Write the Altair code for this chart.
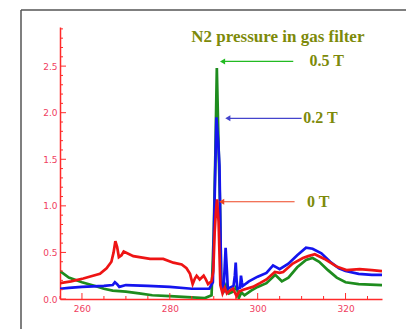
import altair as alt
import pandas as pd

# ---- data ----
red_x = [255, 257.5, 260.3, 262.5, 264.1, 265.6, 266.7, 267.2, 267.6, 268.0, 268.4, 269.0, 269.5, 271.7, 275.5,
         278.5, 280.8, 282.7, 283.8, 284.6, 285.2, 285.7, 286.1, 286.8, 287.7, 288.2, 288.7, 289.5, 289.9, 290.2,
         290.5, 290.75, 291.1, 291.5, 292.0, 292.5, 293.0, 293.7, 294.4, 295.2, 295.8, 296.7, 298.9, 300.5, 302.0,
         303.9, 305.0, 305.8, 308.0, 310.3, 311.5, 313.0, 315.2, 317.9, 320.2, 323.2, 326.0, 328.3]
red_y = [0.17, 0.19, 0.22, 0.25, 0.27, 0.33, 0.40, 0.50, 0.62, 0.56, 0.45, 0.47, 0.51, 0.46, 0.43,
         0.43, 0.39, 0.37, 0.33, 0.27, 0.16, 0.22, 0.25, 0.21, 0.25, 0.21, 0.16, 0.19, 0.30, 0.71,
         0.95, 1.07, 0.83, 0.15, 0.06, 0.12, 0.06, 0.09, 0.11, 0.03, 0.08, 0.10, 0.13, 0.17, 0.21,
         0.29, 0.28, 0.29, 0.38, 0.44, 0.46, 0.48, 0.43, 0.35, 0.31, 0.32, 0.31, 0.30]

blue_x = [255, 257, 260, 265, 267.0, 267.5, 268.0, 268.5, 270, 275, 280, 285, 289.0, 289.8, 290.2,
          290.6, 291.0, 291.3, 291.7, 292.2, 292.5, 292.7, 293.0, 293.2, 294.5, 294.8, 295.0, 295.2, 295.4,
          296.0, 296.2, 296.4, 296.6, 298, 300, 302, 303.5, 304.3, 305, 307, 309, 311, 312.5, 314.5,
          316.5, 318.5, 320, 323, 326, 328.3]
blue_y = [0.11, 0.12, 0.13, 0.14, 0.15, 0.18, 0.16, 0.13, 0.15, 0.14, 0.13, 0.11, 0.11, 0.18, 1.07,
          1.95, 1.70, 1.43, 0.18, 0.07, 0.35, 0.55, 0.30, 0.11, 0.14, 0.25, 0.39, 0.20, 0.11,
          0.12, 0.25, 0.18, 0.14, 0.19, 0.24, 0.28, 0.36, 0.34, 0.32, 0.38, 0.47, 0.55, 0.54, 0.49,
          0.40, 0.33, 0.30, 0.27, 0.26, 0.26]

green_x = [255, 257, 260, 263, 265, 267, 270, 273, 276, 280, 284, 288, 289.5, 290.0, 290.4,
           290.7, 291.1, 291.4, 291.7, 292.3, 292.8, 293.5, 294.5, 295.2, 295.7, 296.3, 297, 298.5,
           300, 302, 304, 305.5, 307, 309, 311, 312.5, 314, 316, 318, 320, 323, 328.3]
green_y = [0.30, 0.23, 0.18, 0.14, 0.11, 0.09, 0.08, 0.06, 0.04, 0.03, 0.02, 0.01, 0.04, 0.71, 1.64,
           2.48, 1.64, 1.07, 0.18, 0.09, 0.15, 0.06, 0.08, 0.14, 0.01, 0.07, 0.04, 0.09,
           0.13, 0.17, 0.26, 0.19, 0.23, 0.34, 0.42, 0.44, 0.40, 0.31, 0.23, 0.18, 0.16, 0.15]

x_labels = [260, 280, 300, 320]
y_labels = [0.0, 0.5, 1.0, 1.5, 2.0, 2.5]
x_minor = [255, 260, 265, 270, 275, 280, 285, 290, 295, 300, 305, 310, 315, 320, 325]
y_minor = [round(0.1 * i, 1) for i in range(0, 30)]

title_text = "N2 pressure in gas filter"
ann_labels = ["0.5 T", "0.2 T", "0 T"]
ann_text_x = [315.7, 314.3, 313.8]
ann_y = [2.55, 1.94, 1.044]
arrow_x1 = [292.0, 293.2, 291.8]
arrow_x2 = [308.1, 310.0, 308.4]
ann_colors = ["#22bb22", "#4444cc", "#ee4422"]

# ---- chart ----
XDOM = [255, 328.3]
YDOM = [0, 2.92]
xs = alt.Scale(domain=XDOM, nice=False, zero=False)
ys = alt.Scale(domain=YDOM, nice=False, zero=False)

AX_RED = "#ff2a2a"
LBL_RED = "#f04060"

X_AXIS = alt.Axis(values=x_labels, ticks=False, grid=False, title=None,
                  domainColor=AX_RED, domainWidth=1.5, labelColor=LBL_RED,
                  labelFont="DejaVu Sans", labelFontSize=9, labelPadding=5)
Y_AXIS = alt.Axis(values=y_labels, ticks=False, grid=False, title=None, format=".1f",
                  domainColor=AX_RED, domainWidth=1.5, labelColor=LBL_RED,
                  labelFont="DejaVu Sans", labelFontSize=9, labelPadding=3)


def X(field):
    return alt.X(field, scale=xs, axis=X_AXIS)


def Y(field):
    return alt.Y(field, scale=ys, axis=Y_AXIS)


def line_layer(xv, yv, color):
    df = pd.DataFrame({"x": xv, "y": yv})
    return alt.Chart(df).mark_line(color=color, strokeWidth=2.7, clip=True).encode(
        x=X("x:Q"), y=Y("y:Q"))


base_df = pd.DataFrame({"x": [XDOM[0]], "y": [YDOM[0]]})

xt_df = pd.DataFrame({"x": x_minor, "len": [5 if v in x_labels else 3 for v in x_minor]})
xticks_major = alt.Chart(xt_df[xt_df["len"] == 5]).mark_rule(color=AX_RED, strokeWidth=1).encode(
    x=X("x:Q"), y=alt.value(272), y2=alt.value(266))
xticks_minor = alt.Chart(xt_df[xt_df["len"] == 3]).mark_rule(color=AX_RED, strokeWidth=1).encode(
    x=X("x:Q"), y=alt.value(272), y2=alt.value(269))

yt_df = pd.DataFrame({"y": y_minor, "major": [any(abs(v - l) < 1e-9 for l in y_labels) for v in y_minor]})
yticks_major = alt.Chart(yt_df[yt_df["major"]]).mark_rule(color=AX_RED, strokeWidth=1).encode(
    y=Y("y:Q"), x=alt.value(0), x2=alt.value(6))
yticks_minor = alt.Chart(yt_df[~yt_df["major"]]).mark_rule(color=AX_RED, strokeWidth=1).encode(
    y=Y("y:Q"), x=alt.value(0), x2=alt.value(3))

frame_v = alt.Chart(base_df).mark_rule(color="#555555", strokeWidth=1.5).encode(
    x=alt.value(-39), y=alt.value(-17), y2=alt.value(310))
frame_h = alt.Chart(base_df).mark_rule(color="#555555", strokeWidth=1.5).encode(
    x=alt.value(-39), x2=alt.value(350), y=alt.value(-17))

title_df = pd.DataFrame({"x": [304.6], "y": [2.81], "t": [title_text]})
title = alt.Chart(title_df).mark_text(font="Liberation Serif", fontWeight="bold", fontSize=17,
                                      color="#7d8a0a").encode(
    x=X("x:Q"), y=Y("y:Q"), text="t:N")

ann_df = pd.DataFrame({"label": ann_labels, "tx": ann_text_x, "y": ann_y,
                       "x1": arrow_x1, "x2": arrow_x2, "c": ann_colors})
ann_text = alt.Chart(ann_df).mark_text(font="Liberation Serif", fontWeight="bold", fontSize=16,
                                       color="#7d8a0a").encode(
    x=X("tx:Q"), y=Y("y:Q"), text="label:N")
ann_lines = alt.Chart(ann_df).mark_rule(strokeWidth=1.2).encode(
    x=X("x1:Q"), x2="x2:Q", y=Y("y:Q"),
    color=alt.Color("c:N", scale=None))
ann_heads = alt.Chart(ann_df).mark_point(shape="triangle-left", filled=True, size=35, opacity=1).encode(
    x=X("x1:Q"), y=Y("y:Q"),
    color=alt.Color("c:N", scale=None))

chart = alt.layer(
    line_layer(green_x, green_y, "#1e8c1e"),
    line_layer(blue_x, blue_y, "#1414ee"),
    line_layer(red_x, red_y, "#ee1414"),
    xticks_major, xticks_minor, yticks_major, yticks_minor,
    title, ann_lines, ann_heads, ann_text,
    frame_v, frame_h,
).properties(
    width=322, height=272,
    autosize=alt.AutoSizeParams(type="none"),
    padding={"left": 60, "top": 27, "right": 24, "bottom": 30},
    background="white",
).configure_view(stroke=None)

chart.save("out.html", embed_options={"renderer": "svg", "actions": False})
